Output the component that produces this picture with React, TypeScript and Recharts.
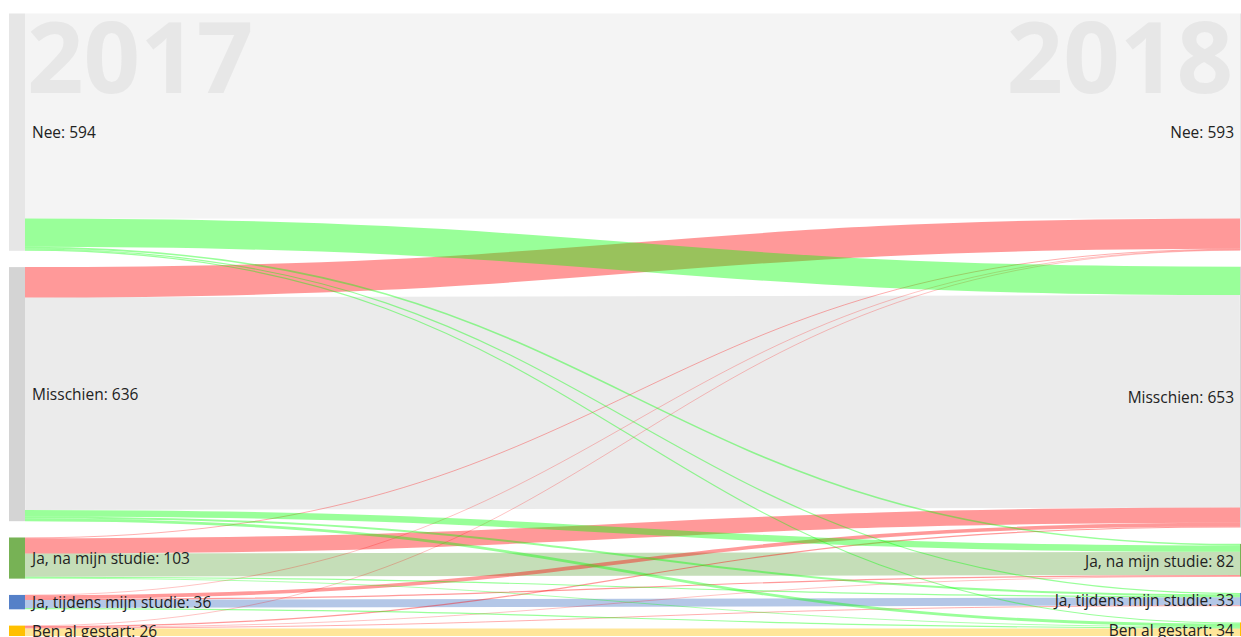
import React from 'react';
import { Sankey } from 'recharts';

const categories = ['Nee', 'Misschien', 'Ja, na mijn studie', 'Ja, tijdens mijn studie', 'Ben al gestart'];
const years = ['2017', '2018'];
// rows: 2017 answer, columns: 2018 answer
const flows = [
  [513, 71, 4, 3, 3],
  [76, 532, 16, 5, 7],
  [2, 38, 58, 3, 2],
  [1, 9, 3, 20, 3],
  [1, 3, 1, 2, 19],
];
const nodeColors = ['#e6e6e6', '#d4d4d4', '#77b255', '#5580c8', '#ffc000'];
const selfLinkColors = ['#f4f4f4', '#ebebeb', '#c5deb8', '#b4c7e7', '#ffe699'];
const upColor = 'rgba(255,0,0,0.4)';
const downColor = 'rgba(0,255,0,0.4)';

const FONT = '"Open Sans", sans-serif';

const nodes = years.flatMap((year) => categories.map((name) => ({ name, year })));

type L = { source: number; target: number; value: number; color: string };
const selfLinks: L[] = [];
const upLinks: L[] = [];
const downLinks: L[] = [];
flows.forEach((row, s) => {
  row.forEach((v, t) => {
    const link = { source: s, target: categories.length + t, value: v, color: '' };
    if (s === t) {
      link.color = selfLinkColors[s];
      selfLinks.push(link);
    } else if (t < s) {
      link.color = upColor;
      upLinks.push(link);
    } else {
      link.color = downColor;
      downLinks.push(link);
    }
  });
});
const links = [...selfLinks, ...upLinks, ...downLinks];

const CustomLink = (props: any) => {
  const { sourceX, targetX, sourceY, targetY, sourceControlX, targetControlX, linkWidth, index, payload } = props;
  const color = (payload && payload.color) || (links[index] && links[index].color) || '#ccc';
  const d = `M${sourceX},${sourceY}C${sourceControlX},${sourceY} ${targetControlX},${targetY} ${targetX},${targetY}`;
  return <path d={d} fill="none" stroke={color} strokeWidth={Math.max(linkWidth, 0.6)} />;
};

const CustomNode = (props: any) => {
  const { x, y, width, height, index, payload } = props;
  const catIdx = index % categories.length;
  const isLeft = index < categories.length;
  const cy = y + height / 2;
  const label = `${payload.name}: ${payload.value}`;
  return (
    <g>
      <rect x={x} y={y} width={width} height={height} fill={nodeColors[catIdx]} />
      {catIdx === 0 && (
        <text
          x={isLeft ? x + width + 2 : x - 7}
          y={93}
          textAnchor={isLeft ? 'start' : 'end'}
          fontFamily={FONT}
          fontWeight={700}
          fontSize={99}
          fill="#e7e7e7"
        >
          {payload.year}
        </text>
      )}
      <text
        x={isLeft ? x + width + 7 : x - 6}
        y={cy + 6.3}
        textAnchor={isLeft ? 'start' : 'end'}
        fontFamily={FONT}
        fontSize={15.5}
        fill="#222"
      >
        {label}
      </text>
    </g>
  );
};

export default function App() {
  return (
    <div style={{ position: 'absolute', left: 0, top: 0, width: 1241, height: 637, overflow: 'hidden', background: '#fff' }}>
      <Sankey
        width={1256}
        height={637}
        data={{ nodes, links }}
        nodeWidth={16}
        nodePadding={16.3}
        iterations={0}
        linkCurvature={0.5}
        margin={{ top: 13.5, right: 0, bottom: 1, left: 9 }}
        node={<CustomNode />}
        link={<CustomLink />}
      />
    </div>
  );
}
